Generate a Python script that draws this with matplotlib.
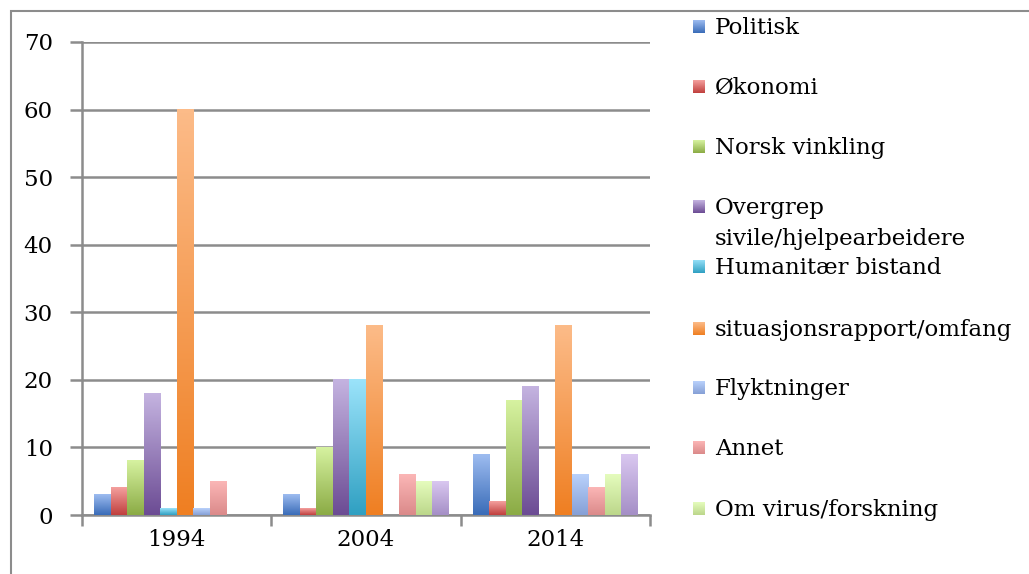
import matplotlib.pyplot as plt
import matplotlib.colors as mcolors
from matplotlib.patches import Rectangle
import numpy as np

years = ['1994', '2004', '2014']
series = ['Politisk', 'Økonomi', 'Norsk vinkling',
          'Overgrep\nsivile/hjelpearbeidere', 'Humanitær bistand',
          'situasjonsrapport/omfang', 'Flyktninger', 'Annet',
          'Om virus/forskning', '']
values = [
    [3, 3, 9],
    [4, 1, 2],
    [8, 10, 17],
    [18, 20, 19],
    [1, 20, 0],
    [60, 28, 28],
    [1, 0, 6],
    [5, 6, 4],
    [0, 5, 6],
    [0, 5, 9],
]
# gradient colours (top, bottom) per series
top_colors = ['#9dbcf0', '#f4a09e', '#d6f2a0', '#c4b3e0', '#9be3fa',
              '#fcbb88', '#b9d1fb', '#fbb6b6', '#e5fcbd', '#d9c7f0']
bottom_colors = ['#3a6cb8', '#c0403e', '#8bab45', '#6c4c94', '#30a0c2',
                 '#ef7f22', '#86a0d6', '#db8a8a', '#bcd78b', '#a58fc6']

plt.rcParams['font.family'] = ['DejaVu Serif']

W, H = 1029, 574
fig = plt.figure(figsize=(W / 100, H / 100), dpi=100)
ax = fig.add_axes([82 / W, 1 - 515 / H, (650 - 82) / W, (515 - 42) / H])

n = len(series)
group_w = 0.873
bw = group_w / n
x = np.arange(len(years))

for i in range(n):
    bars = ax.bar(x - group_w / 2 + bw * (i + 0.5), values[i], bw,
                  color=bottom_colors[i], zorder=3)
    cmap = mcolors.LinearSegmentedColormap.from_list(
        's%d' % i, [bottom_colors[i], top_colors[i]])
    for b in bars:
        h = b.get_height()
        if h <= 0:
            continue
        grad = np.linspace(0, 1, 100).reshape(-1, 1)
        ax.imshow(grad, cmap=cmap, origin='lower', aspect='auto',
                  extent=[b.get_x(), b.get_x() + b.get_width(), 0, h],
                  zorder=4, interpolation='bilinear')
ax.set_xlim(-0.5, len(years) - 0.5)
ax.set_ylim(0, 70)

ax.set_yticks(range(0, 71, 10))
ax.yaxis.grid(True, color='#8c8c8c', linewidth=1.8, zorder=1)
ax.set_axisbelow(True)
ax.set_xticks(x)
ax.set_xticklabels(years)
ax.set_xticks([-0.5, 0.5, 1.5, 2.5], minor=True)
ax.tick_params(axis='x', which='major', length=0, pad=10, labelsize=16.5)
ax.tick_params(axis='x', which='minor', length=8, width=1.8, color='#8c8c8c')
ax.tick_params(axis='y', length=9, width=1.8, color='#8c8c8c', pad=12, labelsize=16.5)
for s in ['top', 'right']:
    ax.spines[s].set_visible(False)
for s in ['left', 'bottom']:
    ax.spines[s].set_color('#8c8c8c')
    ax.spines[s].set_linewidth(1.8)

# manual legend on the right
leg_y = [28, 88, 148, 208, 268, 330, 389, 449, 510]
for i, name in enumerate(series[:9]):
    y = leg_y[i]
    cmap = mcolors.LinearSegmentedColormap.from_list(
        'l%d' % i, [bottom_colors[i], top_colors[i]])
    lax = fig.add_axes([693 / W, 1 - (y + 5) / H, 12 / W, 13 / H])
    lax.imshow(np.linspace(0, 1, 50).reshape(-1, 1), cmap=cmap,
               origin='lower', aspect='auto')
    lax.axis('off')
    for k, line in enumerate(name.split('\n')):
        fig.text(715 / W, 1 - (y + 31 * k) / H, line, fontsize=16.5,
                 va='center', ha='left')

# outer frame (cut off right/bottom)
fig.patches.append(Rectangle((11 / W, -0.1), 1.1, 1 - 11 / H + 0.1,
                             transform=fig.transFigure, fill=False,
                             edgecolor='#8c8c8c', linewidth=1.5))

fig.savefig('out.png', dpi=100)
